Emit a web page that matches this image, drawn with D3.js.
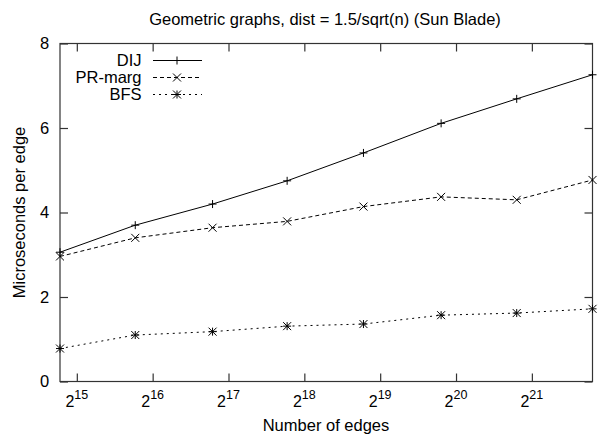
<!DOCTYPE html>
<html>
<head>
<meta charset="utf-8">
<script src="https://cdn.jsdelivr.net/npm/d3@7/dist/d3.min.js"></script>
<style>
  html, body { margin: 0; padding: 0; background: #fff; }
  svg { display: block; font-family: "Liberation Sans", Arial, Helvetica, sans-serif; }
</style>
</head>
<body>
<svg id="chart" width="599" height="441"></svg>
<script>
// Number of edges per test graph
const edges = [28100, 55900, 113300, 224000, 450000, 915000, 1826000, 3650000];
// Microseconds per edge for each algorithm
const dij   = [3.06, 3.70, 4.20, 4.75, 5.41, 6.11, 6.69, 7.26];
const prMarg = [2.96, 3.40, 3.64, 3.79, 4.14, 4.37, 4.30, 4.77];
const bfs   = [0.78, 1.10, 1.18, 1.31, 1.36, 1.57, 1.62, 1.72];
const seriesNames = ["DIJ", "PR-marg", "BFS"];
// Axis ticks
const xTickExps = [15, 16, 17, 18, 19, 20, 21];
const yTicks = [0, 2, 4, 6, 8];

const titleText = "Geometric graphs, dist = 1.5/sqrt(n) (Sun Blade)";
const xLabel = "Number of edges";
const yLabel = "Microseconds per edge";

const svg = d3.select("#chart");
const margin = { left: 60, right: 6.5, top: 43.5, bottom: 59.5 };
const W = 599, H = 441;
const x0 = margin.left, x1 = W - margin.right;
const y0 = H - margin.bottom, y1 = margin.top;
const fs = 16.5;

const x = d3.scaleLog().base(2).domain([edges[0], edges[edges.length - 1]]).range([x0, x1]);
const y = d3.scaleLinear().domain([0, 8]).range([y0, y1]);

const frameColor = "#333";
const tickLen = 8;

// Frame
svg.append("rect")
  .attr("x", x0).attr("y", y1)
  .attr("width", x1 - x0).attr("height", y0 - y1)
  .attr("fill", "none").attr("stroke", frameColor).attr("stroke-width", 1.2);

// Y axis (left, ticks inward) with mirrored ticks on the right
const yAxisL = d3.axisRight(y).tickValues(yTicks).tickSize(tickLen).tickFormat("");
svg.append("g").attr("transform", `translate(${x0},0)`).call(yAxisL)
  .call(g => g.select(".domain").remove())
  .call(g => g.selectAll("line").attr("stroke", frameColor).attr("stroke-width", 1.2));
const yAxisR = d3.axisLeft(y).tickValues(yTicks).tickSize(tickLen).tickFormat("");
svg.append("g").attr("transform", `translate(${x1},0)`).call(yAxisR)
  .call(g => g.select(".domain").remove())
  .call(g => g.selectAll("line").attr("stroke", frameColor).attr("stroke-width", 1.2));

// Y tick labels
svg.append("g").selectAll("text").data(yTicks).join("text")
  .attr("x", x0 - 15.5).attr("y", d => y(d))
  .attr("dy", "0.35em")
  .attr("text-anchor", "middle")
  .attr("font-size", fs)
  .attr("fill", "#000")
  .text(d => d);

// X axis ticks at powers of two (bottom and top, inward)
const xTickVals = xTickExps.map(e => Math.pow(2, e));
const xAxisB = d3.axisTop(x).tickValues(xTickVals).tickSize(tickLen).tickFormat("");
svg.append("g").attr("transform", `translate(0,${y0})`).call(xAxisB)
  .call(g => g.select(".domain").remove())
  .call(g => g.selectAll("line").attr("stroke", frameColor).attr("stroke-width", 1.2));
const xAxisT = d3.axisBottom(x).tickValues(xTickVals).tickSize(tickLen).tickFormat("");
svg.append("g").attr("transform", `translate(0,${y1})`).call(xAxisT)
  .call(g => g.select(".domain").remove())
  .call(g => g.selectAll("line").attr("stroke", frameColor).attr("stroke-width", 1.2));

// X tick labels: 2 with superscript exponent
const xl = svg.append("g").selectAll("text").data(xTickExps).join("text")
  .attr("x", d => x(Math.pow(2, d)))
  .attr("y", y0 + 25.5)
  .attr("text-anchor", "middle")
  .attr("fill", "#000");
xl.append("tspan").attr("font-size", 16).text("2");
xl.append("tspan").attr("font-size", 12.5).attr("dy", -8.5).text(d => d);

// Title and axis labels
svg.append("text").attr("x", 325).attr("y", 25).attr("text-anchor", "middle")
  .attr("font-size", fs).attr("fill", "#000").text(titleText);
svg.append("text").attr("x", 326).attr("y", 431).attr("text-anchor", "middle")
  .attr("font-size", fs).attr("fill", "#000").text(xLabel);
svg.append("text").attr("transform", `translate(25,${(y0 + y1) / 2}) rotate(-90)`)
  .attr("text-anchor", "middle")
  .attr("font-size", fs).attr("fill", "#000").text(yLabel);

// Series definitions
const series = [
  { name: seriesNames[0], values: dij,    dash: null,  marker: "plus" },
  { name: seriesNames[1], values: prMarg, dash: "4,3", marker: "cross" },
  { name: seriesNames[2], values: bfs,    dash: "2,4", marker: "star" }
];

const ms = 4; // marker half-size
function markerPath(type) {
  const p = d3.path();
  if (type === "plus" || type === "star") {
    p.moveTo(-ms, 0); p.lineTo(ms, 0);
    p.moveTo(0, -ms); p.lineTo(0, ms);
  }
  if (type === "cross" || type === "star") {
    p.moveTo(-ms, -ms); p.lineTo(ms, ms);
    p.moveTo(-ms, ms); p.lineTo(ms, -ms);
  }
  return p.toString();
}

const line = d3.line().x((d, i) => x(edges[i])).y(d => y(d));

series.forEach(s => {
  svg.append("path")
    .attr("d", line(s.values))
    .attr("fill", "none")
    .attr("stroke", "#000")
    .attr("stroke-width", 1)
    .attr("stroke-dasharray", s.dash);
  svg.append("g").selectAll("path").data(s.values).join("path")
    .attr("transform", (d, i) => `translate(${x(edges[i])},${y(d)})`)
    .attr("d", markerPath(s.marker))
    .attr("fill", "none")
    .attr("stroke", "#000")
    .attr("stroke-width", 1);
});

// Legend
const legend = svg.append("g");
series.forEach((s, i) => {
  const ly = 60.5 + i * 17;
  legend.append("text").attr("x", 141.5).attr("y", ly).attr("dy", "0.35em")
    .attr("text-anchor", "end").attr("font-size", fs).attr("fill", "#000").text(s.name);
  legend.append("line").attr("x1", 153).attr("x2", 202).attr("y1", ly).attr("y2", ly)
    .attr("stroke", "#000").attr("stroke-width", 1).attr("stroke-dasharray", s.dash);
  legend.append("path").attr("transform", `translate(177,${ly})`)
    .attr("d", markerPath(s.marker))
    .attr("fill", "none").attr("stroke", "#000").attr("stroke-width", 1);
});
</script>
</body>
</html>
